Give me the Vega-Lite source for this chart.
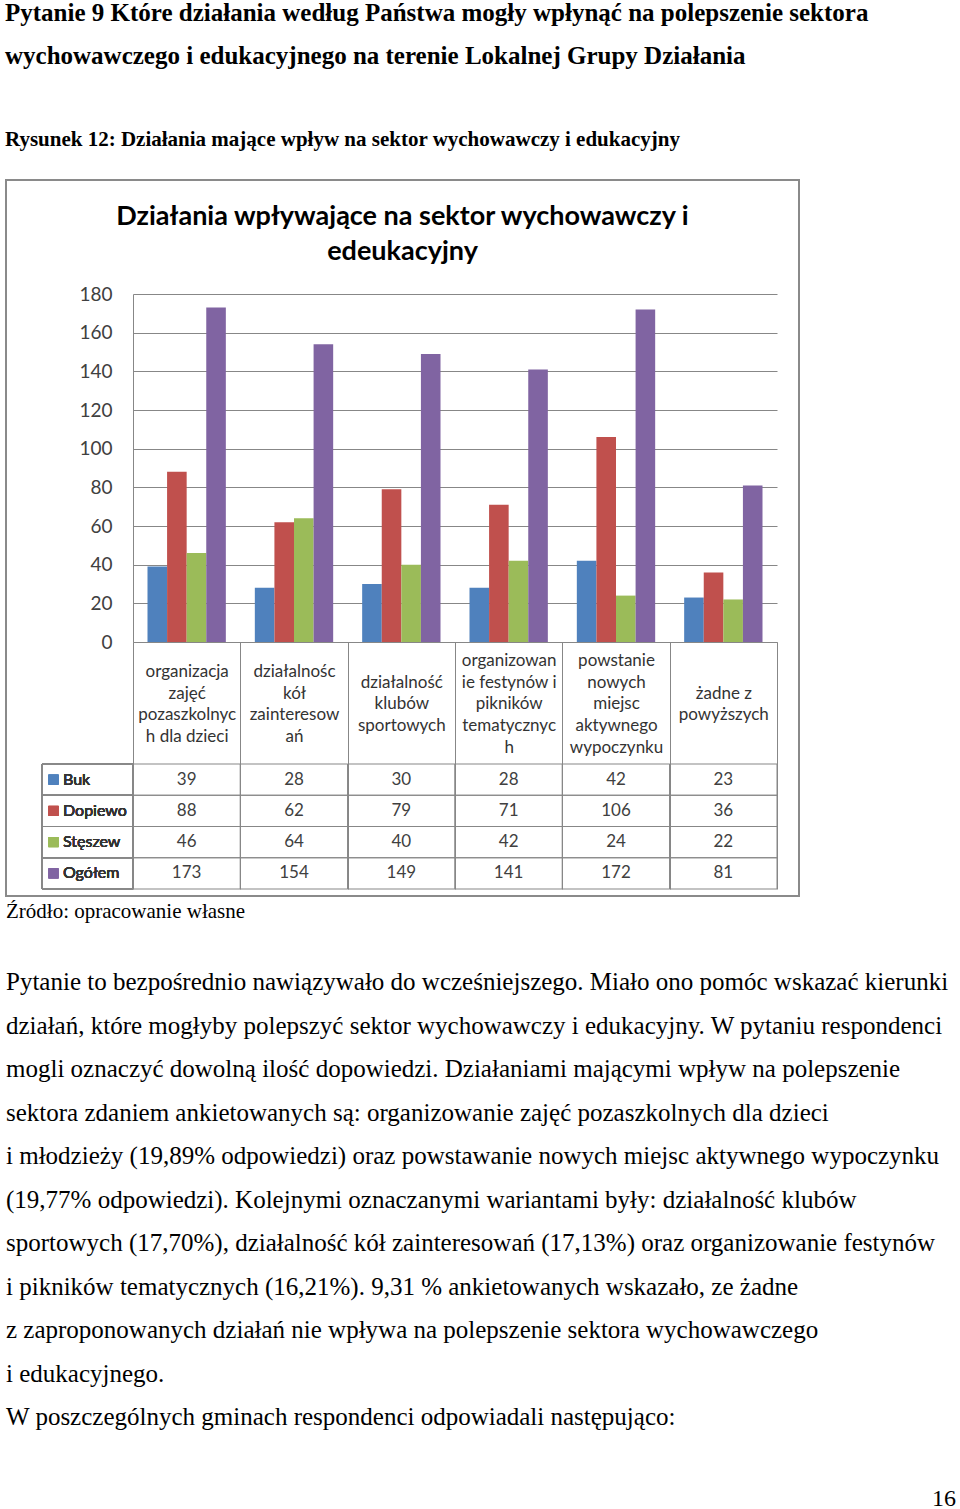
{
  "$schema": "https://vega.github.io/schema/vega-lite/v6.json",
  "background": "white",
  "padding": {"left": 5, "top": 1, "right": 0, "bottom": 0},
  "spacing": 4,
  "title": {
    "text": ["Pytanie 9 Które działania według Państwa mogły wpłynąć na polepszenie sektora", "wychowawczego i edukacyjnego na terenie Lokalnej Grupy Działania"],
    "font": "Liberation Serif", "fontSize": 25, "fontWeight": "bold", "color": "#000000",
    "lineHeight": 43, "anchor": "start", "offset": 29,
    "subtitle": "Rysunek 12: Działania mające wpływ na sektor wychowawczy i edukacyjny",
    "subtitleFont": "Liberation Serif", "subtitleFontSize": 21, "subtitleFontWeight": "bold", "subtitleColor": "#000000",
    "subtitlePadding": 60
  },
  "vconcat": [
    {
      "width": 793,
      "height": 716,
      "view": {"stroke": "#8a8a8a", "strokeWidth": 2, "fill": "white"},
      "title": {
        "text": ["Działania wpływające na sektor wychowawczy i", "edeukacyjny"],
        "font": "Lato", "fontSize": 27, "fontWeight": "bold", "color": "#000000",
        "lineHeight": 35, "anchor": "middle", "offset": 0, "dy": 86
      },
      "data": {"values": [
        {"kategoria": "organizacja\nzajęć\npozaszkolnyc\nh dla dzieci", "gmina": "Buk", "liczba": 39},
        {"kategoria": "organizacja\nzajęć\npozaszkolnyc\nh dla dzieci", "gmina": "Dopiewo", "liczba": 88},
        {"kategoria": "organizacja\nzajęć\npozaszkolnyc\nh dla dzieci", "gmina": "Stęszew", "liczba": 46},
        {"kategoria": "organizacja\nzajęć\npozaszkolnyc\nh dla dzieci", "gmina": "Ogółem", "liczba": 173},
        {"kategoria": "działalnośc\nkół\nzainteresow\nań", "gmina": "Buk", "liczba": 28},
        {"kategoria": "działalnośc\nkół\nzainteresow\nań", "gmina": "Dopiewo", "liczba": 62},
        {"kategoria": "działalnośc\nkół\nzainteresow\nań", "gmina": "Stęszew", "liczba": 64},
        {"kategoria": "działalnośc\nkół\nzainteresow\nań", "gmina": "Ogółem", "liczba": 154},
        {"kategoria": "działalność\nklubów\nsportowych", "gmina": "Buk", "liczba": 30},
        {"kategoria": "działalność\nklubów\nsportowych", "gmina": "Dopiewo", "liczba": 79},
        {"kategoria": "działalność\nklubów\nsportowych", "gmina": "Stęszew", "liczba": 40},
        {"kategoria": "działalność\nklubów\nsportowych", "gmina": "Ogółem", "liczba": 149},
        {"kategoria": "organizowan\nie festynów i\npikników\ntematycznyc\nh", "gmina": "Buk", "liczba": 28},
        {"kategoria": "organizowan\nie festynów i\npikników\ntematycznyc\nh", "gmina": "Dopiewo", "liczba": 71},
        {"kategoria": "organizowan\nie festynów i\npikników\ntematycznyc\nh", "gmina": "Stęszew", "liczba": 42},
        {"kategoria": "organizowan\nie festynów i\npikników\ntematycznyc\nh", "gmina": "Ogółem", "liczba": 141},
        {"kategoria": "powstanie\nnowych\nmiejsc\naktywnego\nwypoczynku", "gmina": "Buk", "liczba": 42},
        {"kategoria": "powstanie\nnowych\nmiejsc\naktywnego\nwypoczynku", "gmina": "Dopiewo", "liczba": 106},
        {"kategoria": "powstanie\nnowych\nmiejsc\naktywnego\nwypoczynku", "gmina": "Stęszew", "liczba": 24},
        {"kategoria": "powstanie\nnowych\nmiejsc\naktywnego\nwypoczynku", "gmina": "Ogółem", "liczba": 172},
        {"kategoria": "żadne z\npowyższych", "gmina": "Buk", "liczba": 23},
        {"kategoria": "żadne z\npowyższych", "gmina": "Dopiewo", "liczba": 36},
        {"kategoria": "żadne z\npowyższych", "gmina": "Stęszew", "liczba": 22},
        {"kategoria": "żadne z\npowyższych", "gmina": "Ogółem", "liczba": 81}
      ]},
      "layer": [
        {
          "mark": {"type": "bar"},
          "encoding": {
            "x": {
              "field": "kategoria", "type": "nominal", "sort": null,
              "scale": {"range": [127, 771], "paddingInner": 0, "paddingOuter": 0},
              "axis": {
                "orient": "bottom", "offset": -254, "title": null,
                "labelExpr": "split(datum.label, '\\n')",
                "labelAngle": 0, "labelBaseline": "middle",
                "labelPadding": {
                  "condition": [
                    {"test": "length(split(datum.value, '\\n')) == 5", "value": -228.5},
                    {"test": "length(split(datum.value, '\\n')) == 3", "value": -206.7},
                    {"test": "length(split(datum.value, '\\n')) == 2", "value": -195.9}
                  ],
                  "value": -217.5
                },
                "labelLineHeight": 21.7, "labelFont": "Lato", "labelFontSize": 17,
                "labelColor": "#333333", "labelOverlap": false, "labelLimit": 0,
                "tickBand": "extent", "tickSize": 247, "tickColor": "#878787", "tickWidth": 1,
                "domainColor": "#878787", "domainWidth": 1, "grid": false
              }
            },
            "xOffset": {
              "field": "gmina", "type": "nominal",
              "sort": ["Buk", "Dopiewo", "Stęszew", "Ogółem"],
              "scale": {"paddingInner": 0, "paddingOuter": 0.74}
            },
            "y": {
              "field": "liczba", "type": "quantitative",
              "scale": {"domain": [0, 180], "range": [462, 114], "nice": false},
              "axis": {
                "orient": "left", "offset": -127, "title": null,
                "values": [0, 20, 40, 60, 80, 100, 120, 140, 160, 180],
                "grid": true, "gridColor": "#878787", "gridWidth": 1,
                "ticks": false, "domain": true, "domainColor": "#878787", "domainWidth": 1,
                "labelPadding": 21, "labelFont": "Lato", "labelFontSize": 19, "labelColor": "#404040"
              }
            },
            "color": {
              "field": "gmina", "type": "nominal",
              "scale": {"domain": ["Buk", "Dopiewo", "Stęszew", "Ogółem"], "range": ["#4F81BD", "#C0504D", "#9BBB59", "#8064A2"]},
              "legend": null
            }
          }
        },
        {
          "encoding": {
            "x": {
              "field": "kategoria", "type": "nominal", "sort": null,
              "scale": {"range": [127, 771], "paddingInner": 0, "paddingOuter": 0},
              "axis": null
            },
            "y": {
              "field": "gmina", "type": "nominal",
              "sort": ["Buk", "Dopiewo", "Stęszew", "Ogółem"],
              "scale": {"range": [584, 709], "paddingInner": 0, "paddingOuter": 0},
              "axis": null
            }
          },
          "layer": [
            {"mark": {"type": "rect", "fill": null, "fillOpacity": 0, "stroke": "#878787", "strokeWidth": 1}},
            {
              "mark": {"type": "text", "font": "Lato", "fontSize": 17, "color": "#404040"},
              "encoding": {"text": {"field": "liczba", "type": "quantitative"}}
            }
          ]
        },
        {
          "encoding": {
            "x": {
              "datum": "legenda", "type": "nominal",
              "scale": {"range": [36, 127], "paddingInner": 0, "paddingOuter": 0},
              "axis": null
            },
            "y": {
              "field": "gmina", "type": "nominal",
              "sort": ["Buk", "Dopiewo", "Stęszew", "Ogółem"],
              "scale": {"range": [584, 709], "paddingInner": 0, "paddingOuter": 0},
              "axis": null
            }
          },
          "layer": [
            {"mark": {"type": "rect", "fill": null, "fillOpacity": 0, "stroke": "#878787", "strokeWidth": 1}},
            {
              "mark": {"type": "point", "shape": "square", "filled": true, "size": 100, "opacity": 1, "xOffset": -34},
              "encoding": {"color": {"field": "gmina", "type": "nominal", "legend": null}}
            },
            {
              "mark": {"type": "text", "font": "Lato", "fontSize": 16, "color": "#333333", "align": "left", "dx": -24.5},
              "encoding": {"text": {"field": "gmina", "type": "nominal"}}
            }
          ]
        }
      ],
      "resolve": {"scale": {"x": "independent", "y": "independent"}}
    },
    {
      "width": 950,
      "height": 53,
      "data": {"values": []},
      "mark": "rect",
      "title": {
        "text": "Źródło: opracowanie własne",
        "font": "Liberation Serif", "fontSize": 21, "fontWeight": "normal", "color": "#000000",
        "anchor": "start", "offset": 0,
        "subtitle": [
          "Pytanie to bezpośrednio nawiązywało do wcześniejszego. Miało ono pomóc wskazać kierunki",
          "działań, które mogłyby polepszyć sektor wychowawczy i edukacyjny. W pytaniu respondenci",
          "mogli oznaczyć dowolną ilość dopowiedzi. Działaniami mającymi wpływ na polepszenie",
          "sektora zdaniem ankietowanych są: organizowanie zajęć pozaszkolnych dla dzieci",
          "i młodzieży (19,89% odpowiedzi) oraz powstawanie nowych miejsc aktywnego wypoczynku",
          "(19,77% odpowiedzi). Kolejnymi oznaczanymi wariantami były: działalność klubów",
          "sportowych (17,70%), działalność kół zainteresowań (17,13%) oraz organizowanie festynów",
          "i pikników tematycznych (16,21%). 9,31 % ankietowanych wskazało, ze żadne",
          "z zaproponowanych działań nie wpływa na polepszenie sektora wychowawczego",
          "i edukacyjnego.",
          "W poszczególnych gminach respondenci odpowiadali następująco:"
        ],
        "subtitleFont": "Liberation Serif", "subtitleFontSize": 25, "subtitleColor": "#000000",
        "subtitleLineHeight": 43.5, "subtitlePadding": 48
      }
    },
    {
      "width": 950,
      "height": 1,
      "data": {"values": []},
      "mark": "rect",
      "title": {
        "text": "16", "anchor": "end",
        "font": "Liberation Serif", "fontSize": 24, "fontWeight": "normal", "color": "#000000",
        "offset": 0
      }
    }
  ],
  "config": {
    "view": {"stroke": null},
    "font": "Lato"
  }
}
